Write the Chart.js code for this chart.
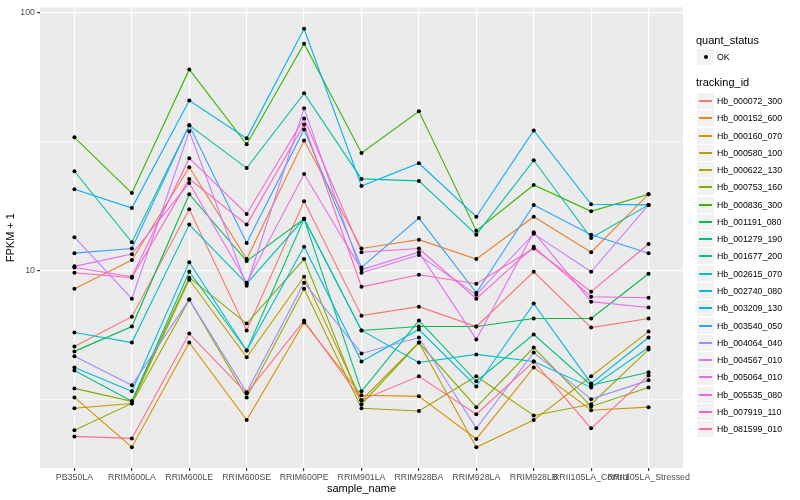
<!DOCTYPE html>
<html>
<head>
<meta charset="utf-8">
<script src="https://cdn.jsdelivr.net/npm/chart.js@4.4.1/dist/chart.umd.min.js"></script>
<style>
body { margin: 0; background: #fff; font-family: "Liberation Sans", Arial, sans-serif; }
#wrap { position: relative; width: 800px; height: 500px; }
#legend { position: absolute; left: 0; top: 0; width: 800px; height: 500px; pointer-events: none; }
.ttl { position: absolute; left: 696px; font-size: 11px; color: #000; line-height: 12px; }
.key { position: absolute; left: 697px; width: 17px; height: 16px; background: #F2F2F2; }
.key i { position: absolute; left: 2px; right: 2px; top: 7px; height: 2px; }
.key b { position: absolute; left: 7px; top: 6px; width: 4px; height: 4px; border-radius: 2px; background: #000; }
.lab { position: absolute; left: 717px; font-size: 8.8px; color: #000; line-height: 10px; }
</style>
</head>
<body>
<div id="wrap">
  <canvas id="fpkmChart" width="800" height="500"></canvas>
  <div id="legend"></div>
</div>
<script>
var sampleNames = ["PB350LA", "RRIM600LA", "RRIM600LE", "RRIM600SE", "RRIM600PE", "RRIM901LA",
                   "RRIM928BA", "RRIM928LA", "RRIM928LB", "RRII105LA_Control", "RRII105LA_Stressed"];

var trackingIds = ["Hb_000072_300", "Hb_000152_600", "Hb_000160_070", "Hb_000580_100", "Hb_000622_130",
                   "Hb_000753_160", "Hb_000836_300", "Hb_001191_080", "Hb_001279_190", "Hb_001677_200",
                   "Hb_002615_070", "Hb_002740_080", "Hb_003209_130", "Hb_003540_050", "Hb_004064_040",
                   "Hb_004567_010", "Hb_005064_010", "Hb_005535_080", "Hb_007919_110", "Hb_081599_010"];

// FPKM + 1, one value per sample
var hb_000072_300 = [5.09, 6.64, 17.3, 5.87, 18.6, 6.70, 7.26, 6.08, 9.91, 6.02, 6.53];
var hb_000152_600 = [8.52, 11.0, 25.2, 11.1, 32.0, 12.2, 13.2, 11.1, 16.2, 11.8, 19.8];
var hb_000160_070 = [3.23, 2.07, 5.27, 2.64, 6.30, 3.29, 3.26, 2.23, 4.22, 2.88, 2.96];
var hb_000580_100 = [2.93, 3.06, 9.23, 4.62, 9.48, 3.15, 5.27, 2.07, 2.64, 3.90, 5.81];
var hb_000622_130 = [2.41, 3.06, 7.73, 3.23, 8.52, 2.93, 2.86, 3.90, 2.75, 3.04, 4.95];
var hb_000753_160 = [3.50, 3.12, 9.40, 6.24, 11.1, 3.04, 5.27, 2.96, 5.04, 2.98, 3.53];
var hb_000836_300 = [32.9, 20.0, 60.3, 30.9, 75.9, 28.6, 41.5, 14.3, 21.5, 17.0, 19.8];
var hb_001191_080 = [4.87, 6.08, 19.8, 10.9, 15.9, 5.87, 6.08, 6.08, 6.53, 6.53, 9.74];
var hb_001279_190 = [4.11, 3.12, 9.91, 4.91, 15.9, 3.41, 6.41, 3.73, 5.66, 3.60, 4.04];
var hb_001677_200 = [24.3, 12.9, 36.6, 25.0, 48.7, 22.7, 22.3, 13.8, 26.8, 13.4, 18.0];
var hb_002615_070 = [5.76, 5.27, 15.1, 8.91, 15.9, 5.87, 4.41, 4.74, 4.45, 3.53, 5.04];
var hb_002740_080 = [4.22, 3.41, 10.8, 4.91, 12.4, 4.45, 5.92, 3.56, 7.46, 3.66, 5.51];
var hb_003209_130 = [20.7, 17.5, 45.7, 32.6, 86.7, 21.3, 26.1, 16.2, 35.0, 18.1, 18.0];
var hb_003540_050 = [11.7, 12.2, 36.6, 12.8, 35.3, 10.3, 16.0, 8.22, 18.0, 13.8, 11.7];
var hb_004064_040 = [4.66, 3.60, 7.73, 3.38, 8.99, 4.78, 5.51, 2.45, 4.82, 3.18, 3.76];
var hb_004567_010 = [13.5, 7.79, 34.7, 8.75, 42.6, 9.82, 11.5, 8.08, 13.9, 9.91, 18.0];
var hb_005064_010 = [10.4, 11.6, 21.9, 8.99, 23.7, 10.1, 11.8, 5.42, 14.1, 7.59, 7.20];
var hb_005535_080 = [10.3, 9.48, 27.3, 16.6, 38.9, 11.8, 12.2, 7.79, 12.4, 7.93, 7.86];
var hb_007919_110 = [9.82, 9.40, 22.7, 15.1, 36.9, 8.67, 9.65, 8.91, 12.2, 8.30, 12.7];
var hb_081599_010 = [2.28, 2.24, 5.71, 3.35, 6.41, 3.15, 3.90, 2.78, 4.45, 2.45, 3.93];

var seriesValues = [hb_000072_300, hb_000152_600, hb_000160_070, hb_000580_100, hb_000622_130,
                    hb_000753_160, hb_000836_300, hb_001191_080, hb_001279_190, hb_001677_200,
                    hb_002615_070, hb_002740_080, hb_003209_130, hb_003540_050, hb_004064_040,
                    hb_004567_010, hb_005064_010, hb_005535_080, hb_007919_110, hb_081599_010];

var yBreaks = [10, 100];
var yMinorBreaks = [3.1623, 31.623];

// ggplot default hue palette, 20 levels
var palette = ["#F8766D", "#EA8331", "#D89000", "#C09B00", "#A3A500", "#7CAE00", "#39B600", "#00BB4E",
               "#00BF7D", "#00C1A3", "#00BFC4", "#00BAE0", "#00B0F6", "#35A2FF", "#9590FF", "#C77CFF",
               "#E76BF3", "#FA62DB", "#FF62BC", "#FF6C90"];

var datasets = seriesValues.map(function (vals, s) {
    return {
        label: trackingIds[s],
        data: vals.map(function (v, i) { return { x: i, y: v }; }),
        borderColor: palette[s],
        borderWidth: 1.1,
        pointRadius: 0,
        fill: false,
        tension: 0,
        order: 20 - s
    };
});

var okPoints = [];
seriesValues.forEach(function (vals) {
    vals.forEach(function (v, i) { okPoints.push({ x: i, y: v }); });
});
datasets.push({
    type: 'scatter',
    label: 'OK',
    data: okPoints,
    pointRadius: 2,
    pointBackgroundColor: '#000',
    pointBorderWidth: 0,
    showLine: false,
    order: -1
});

var panelBg = {
    id: 'panelBg',
    beforeDraw: function (chart) {
        var a = chart.chartArea, c = chart.ctx;
        c.save();
        c.fillStyle = '#EBEBEB';
        c.fillRect(a.left, a.top, a.right - a.left, a.bottom - a.top);
        c.restore();
    }
};

function isMajor(v) { return yBreaks.indexOf(v) >= 0; }

new Chart(document.getElementById('fpkmChart'), {
    type: 'line',
    data: { datasets: datasets },
    plugins: [panelBg],
    options: {
        responsive: false,
        animation: false,
        layout: { padding: { left: 0, top: 5, right: 117, bottom: 0 } },
        plugins: { legend: { display: false }, tooltip: { enabled: false } },
        scales: {
            x: {
                type: 'linear',
                min: -0.6,
                max: 10.6,
                afterBuildTicks: function (scale) {
                    scale.ticks = sampleNames.map(function (n, i) { return { value: i }; });
                },
                afterFit: function (scale) { scale.height = 32; },
                ticks: {
                    autoSkip: false,
                    maxRotation: 0,
                    minRotation: 0,
                    padding: 1,
                    color: '#4D4D4D',
                    font: { family: 'Liberation Sans', size: 8.8 },
                    callback: function (v) { return sampleNames[v]; }
                },
                grid: { color: '#FFFFFF', lineWidth: 1.2, tickLength: 3, tickColor: '#333333' },
                border: { display: false },
                title: {
                    display: true, text: 'sample_name', color: '#000',
                    font: { family: 'Liberation Sans', size: 11 }, padding: { top: 0, bottom: 4 }
                }
            },
            y: {
                type: 'logarithmic',
                min: 1.72,
                max: 105,
                afterBuildTicks: function (scale) {
                    scale.ticks = yMinorBreaks.concat(yBreaks).sort(function (a, b) { return a - b; })
                        .map(function (v) { return { value: v }; });
                },
                afterFit: function (scale) { scale.width = 40; },
                ticks: {
                    padding: 2,
                    color: '#4D4D4D',
                    font: { family: 'Liberation Sans', size: 8.8 },
                    callback: function (v) { return isMajor(v) ? String(v) : ''; }
                },
                grid: {
                    color: '#FFFFFF',
                    lineWidth: function (ctx) { return ctx.tick && isMajor(ctx.tick.value) ? 1.2 : 0.6; },
                    tickLength: 3,
                    tickColor: function (ctx) { return ctx.tick && isMajor(ctx.tick.value) ? '#333333' : 'rgba(0,0,0,0)'; }
                },
                border: { display: false },
                title: {
                    display: true, text: 'FPKM + 1', color: '#000',
                    font: { family: 'Liberation Sans', size: 11 }, padding: { top: 4, bottom: 0 }
                }
            }
        }
    }
});

// legend, ggplot style
var legend = document.getElementById('legend');
function add(cls, top, html) {
    var d = document.createElement('div');
    d.className = cls;
    d.style.top = Math.round(top) + 'px';
    d.innerHTML = html;
    legend.appendChild(d);
    return d;
}
add('ttl', 34, 'quant_status');
add('key', 49, '<b></b>');
add('lab', 52, 'OK');
add('ttl', 76, 'tracking_id');
trackingIds.forEach(function (id, s) {
    var cy = 101 + s * 17.27;
    add('key', cy - 8, '<i style="background:' + palette[s] + '"></i>');
    add('lab', cy - 5, id);
});
</script>
</body>
</html>
